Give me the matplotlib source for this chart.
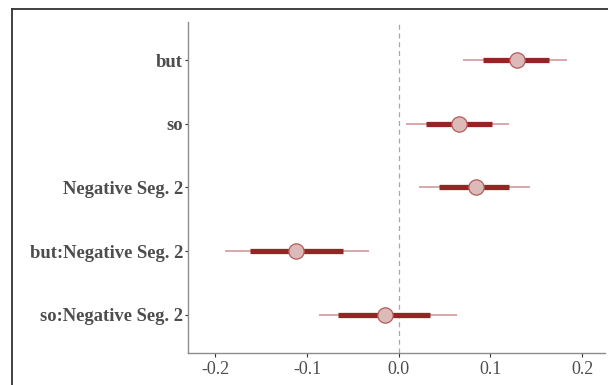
import matplotlib
matplotlib.use('Agg')
import matplotlib.pyplot as plt
from matplotlib.lines import Line2D

# coefficient estimates with 50% (thick) and 95% (thin) intervals
terms = ['but', 'so', 'Negative Seg. 2', 'but:Negative Seg. 2', 'so:Negative Seg. 2']
estimate = [0.129, 0.066, 0.084, -0.112, -0.015]
inner_lo = [0.092, 0.030, 0.044, -0.162, -0.066]
inner_hi = [0.164, 0.102, 0.120, -0.061, 0.034]
outer_lo = [0.070, 0.008, 0.022, -0.189, -0.087]
outer_hi = [0.184, 0.120, 0.143, -0.032, 0.064]
xticks = [-0.2, -0.1, 0.0, 0.1, 0.2]

fig = plt.figure(figsize=(6.08, 3.85), dpi=100)
ax = fig.add_axes([0.309, 0.083, 0.686, 0.860])

ypos = list(range(len(terms), 0, -1))

ax.axvline(0, color='#A8A8A8', linestyle=(0, (4, 3)), linewidth=0.9, zorder=1)
ax.hlines(ypos, outer_lo, outer_hi, color='#D08F8F', linewidth=1.1, zorder=2)
ax.hlines(ypos, inner_lo, inner_hi, color='#952525', linewidth=3.8, zorder=3)
ax.plot(estimate, ypos, 'o', markersize=11, markerfacecolor='#DDBABA',
        markeredgecolor='#B55A5A', markeredgewidth=0.9, zorder=4)

ax.set_xlim(-0.23, 0.225)
ax.set_ylim(0.4, len(terms) + 0.6)
ax.set_xticks(xticks)
ax.set_xticklabels([f'{t:.1f}' for t in xticks])
ax.set_yticks(ypos)
ax.set_yticklabels(terms)

for lab in ax.get_yticklabels():
    lab.set_fontfamily('Liberation Serif')
    lab.set_fontweight('bold')
    lab.set_fontsize(13.4)
    lab.set_color('#4D4D4D')
for lab in ax.get_xticklabels():
    lab.set_fontfamily('Liberation Serif')
    lab.set_fontsize(13)
    lab.set_color('#4D4D4D')

ax.tick_params(axis='x', length=3, width=0.8, color='#333333', pad=3)
ax.tick_params(axis='y', length=2.5, width=0.8, color='#333333', pad=1)
for s in ['top', 'right']:
    ax.spines[s].set_visible(False)
for s in ['left', 'bottom']:
    ax.spines[s].set_color('#8C8C8C')
    ax.spines[s].set_linewidth(1.0)

# outer panel border (only top and left edges fall inside the canvas)
fig.add_artist(Line2D([12 / 608, 12 / 608], [0, 1 - 9 / 385], transform=fig.transFigure,
                      color='#333333', linewidth=1.3))
fig.add_artist(Line2D([12 / 608, 1], [1 - 9 / 385, 1 - 9 / 385], transform=fig.transFigure,
                      color='#333333', linewidth=1.3))

fig.savefig('out.png', dpi=100, facecolor='white')
